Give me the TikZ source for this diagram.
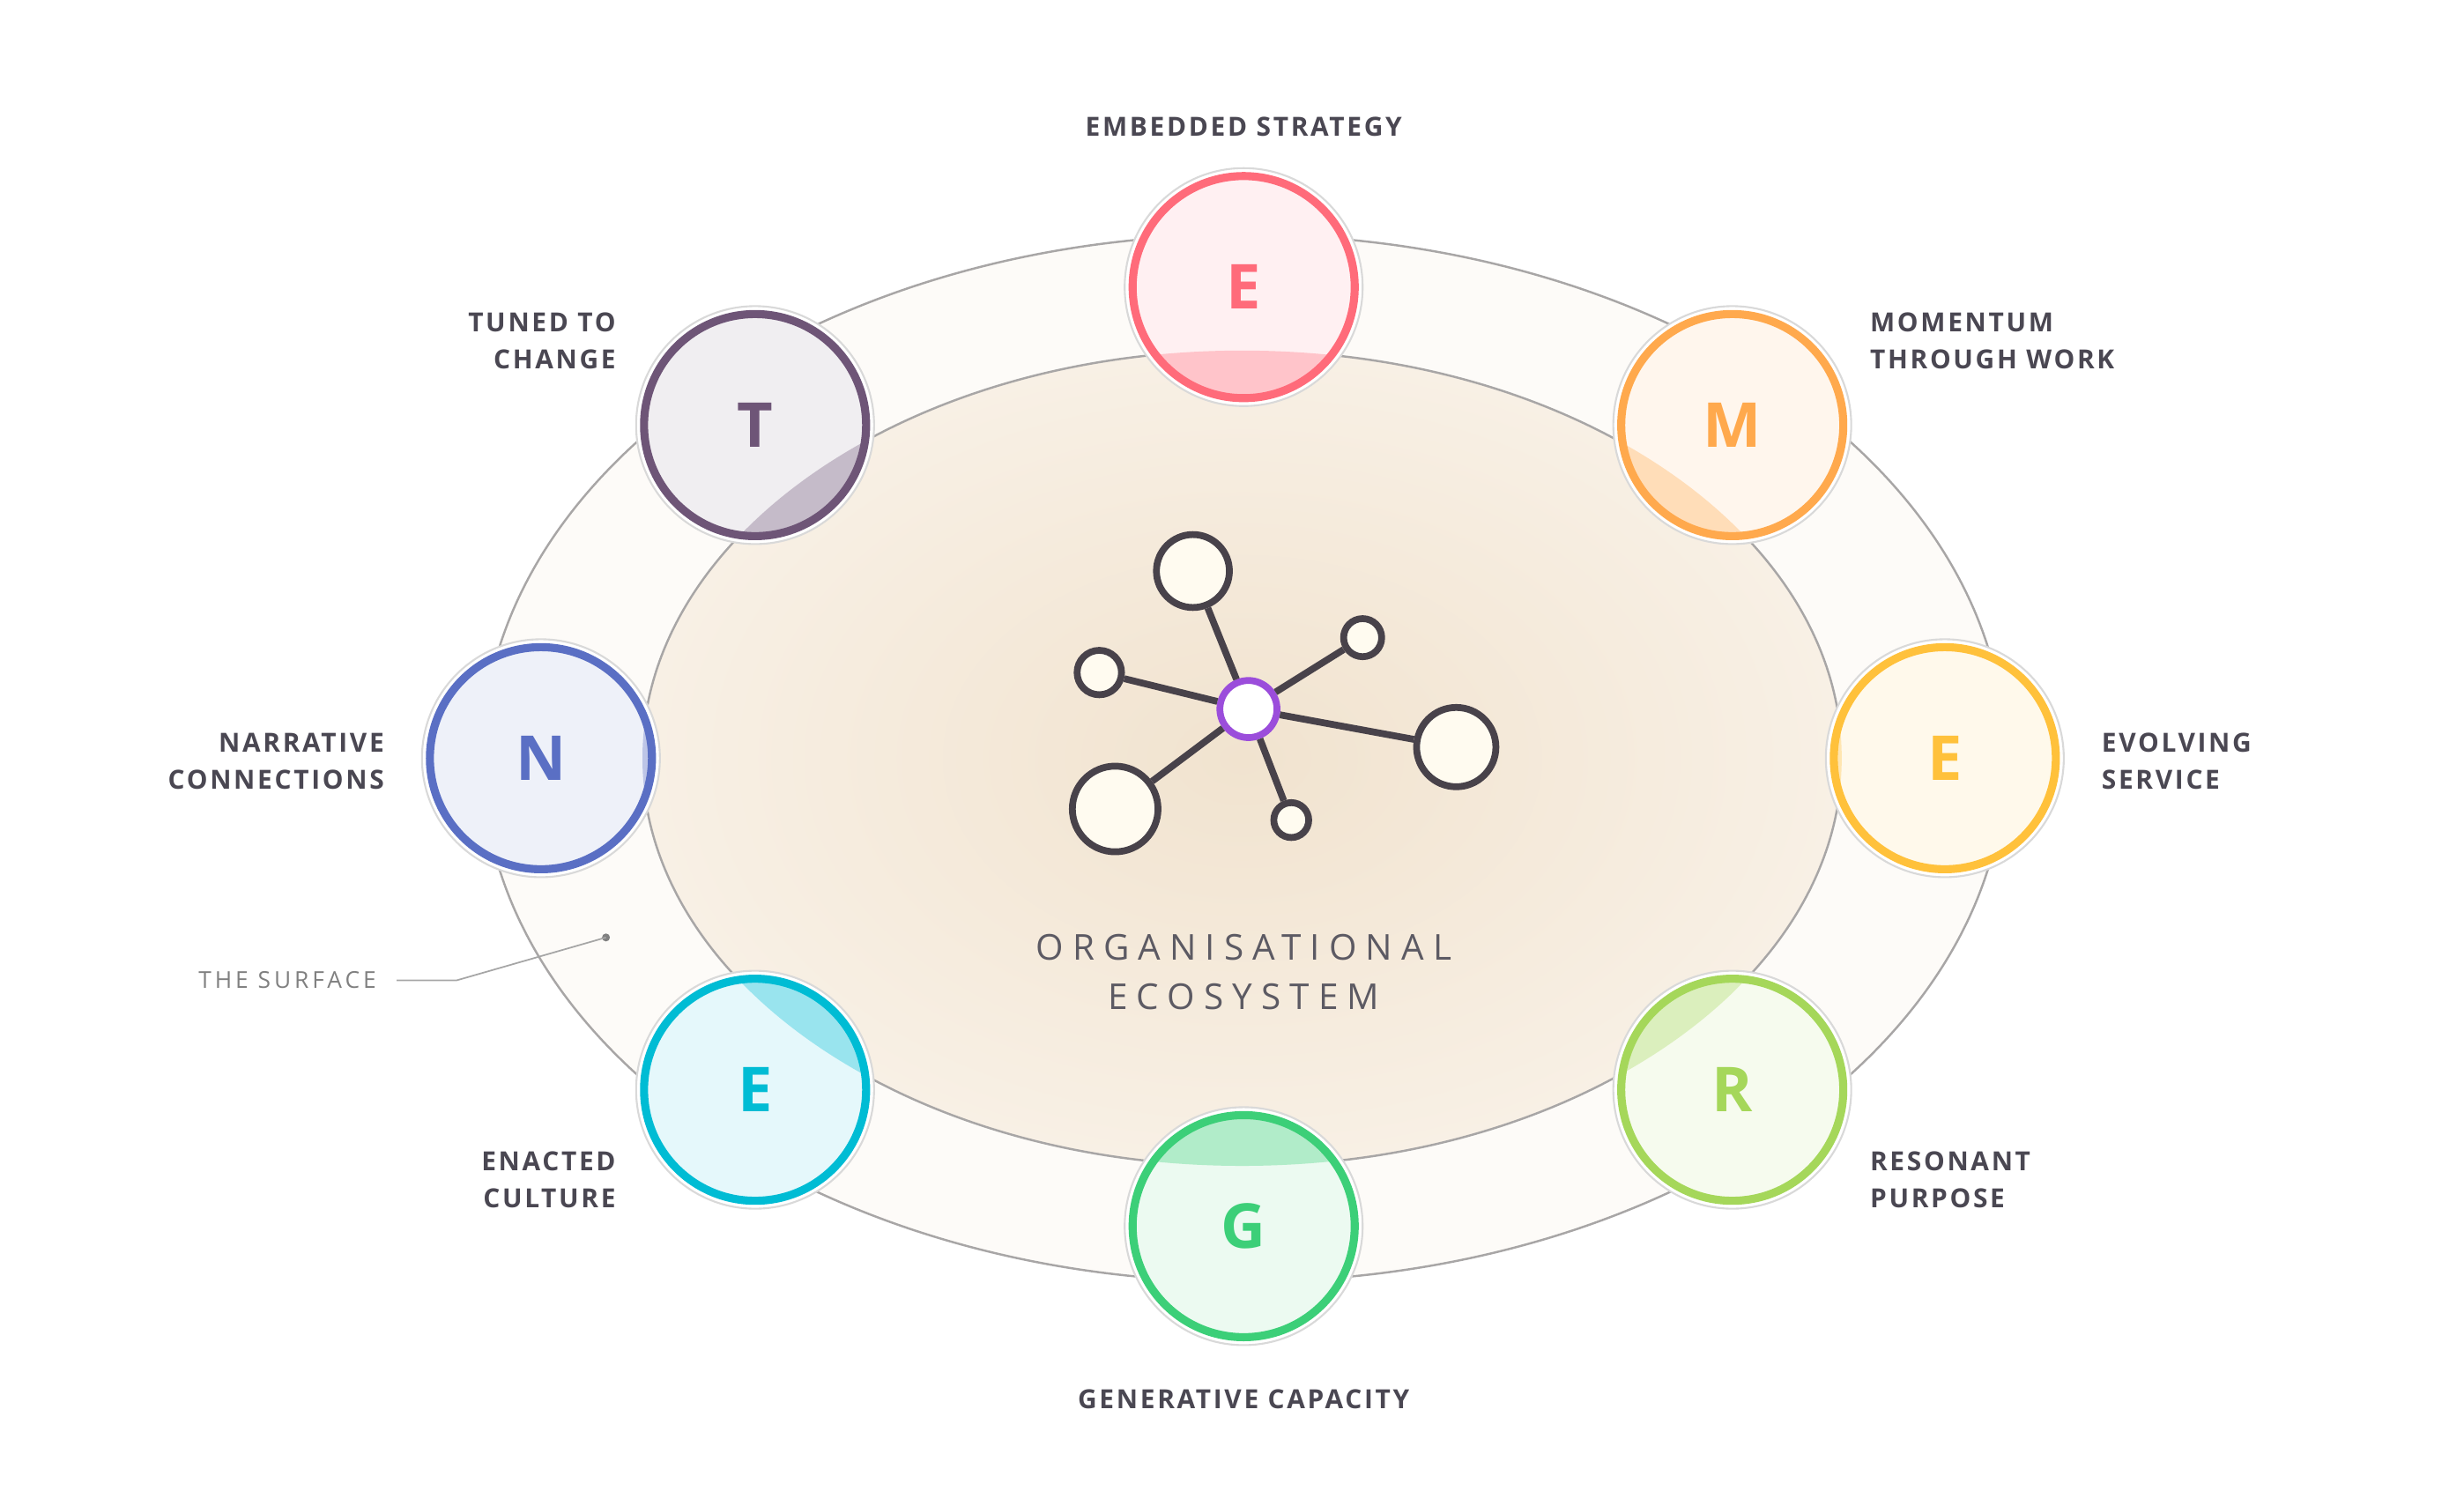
\documentclass[tikz,border=0pt]{standalone}
\usepackage{fontspec}
\setmainfont{Open Sans}
\usetikzlibrary{positioning,shadings}
\definecolor{labelgray}{HTML}{4A4752}
\definecolor{ringgray}{HTML}{A8A6A6}
\definecolor{coreIn}{HTML}{F1E3CF}
\definecolor{coreOut}{HTML}{F8F0E5}
\definecolor{ringfill}{HTML}{FDFBF8}
\definecolor{cE}{HTML}{FF6B7A}
\definecolor{cT}{HTML}{6E5577}
\definecolor{cM}{HTML}{FFA94D}
\definecolor{cN}{HTML}{5A6FC4}
\definecolor{cEr}{HTML}{FFC13B}
\definecolor{cEl}{HTML}{00BCD4}
\definecolor{cR}{HTML}{A5D75A}
\definecolor{cG}{HTML}{3CCF78}
\definecolor{netline}{HTML}{48424A}
\definecolor{netfill}{HTML}{FFFBF0}
\definecolor{hubviolet}{HTML}{9B4DDB}
\tikzset{
    label-text/.style = {text=labelgray, font=\fontsize{8.5}{12}\selectfont\addfontfeature{LetterSpace=9}\bfseries, align=left},
    letter/.style = {font=\fontsize{20}{20}\selectfont\bfseries},
    net-node/.style = {circle, draw=netline, line width=2.2pt, fill=netfill, inner sep=0pt},
}
\begin{document}
\begin{tikzpicture}[x=0.018cm,y=-0.018cm]
\useasboundingbox (0,0) rectangle (1553.3,948.9);
% ring and core
\draw[ringgray, fill=ringfill, line width=0.7pt] (784,478) ellipse [x radius=480, y radius=330];
\shade[inner color=coreIn, outer color=coreOut, draw=ringgray, line width=0.7pt] (783,478) ellipse [x radius=378, y radius=257];
% circles
\foreach \x/\y/\c/\l/\n in {784/181/cE/E/e1, 476/268/cT/T/t, 1092/268/cM/M/m, 341/478/cN/N/n, 1226/478/cEr/E/e2, 476/687/cEl/E/e3, 1092/687/cR/R/r, 784/773/cG/G/g}{
    \fill[white] (\x,\y) circle (75);
    \draw[gray!30, line width=0.6pt] (\x,\y) circle (75);
    \fill[\c!10!white] (\x,\y) circle (70);
    \begin{scope}
        \clip (783,478) ellipse [x radius=378, y radius=257];
        \fill[\c!40!white] (\x,\y) circle (70);
    \end{scope}
    \draw[\c, line width=2.6pt] (\x,\y) circle (70);
    \node[letter, text=\c] (\n) at (\x,\y) {\l};
}
% labels
\node[label-text, align=center] (l-e1) at (784,80) {EMBEDDED STRATEGY};
\node[label-text, align=right, anchor=east] (l-t) at (395,215) {TUNED TO\\CHANGE};
\node[label-text, anchor=west] (l-m) at (1172,215) {MOMENTUM\\THROUGH WORK};
\node[label-text, align=right, anchor=east] (l-n) at (249,480) {NARRATIVE\\CONNECTIONS};
\node[label-text, anchor=west] (l-e2) at (1318,480) {EVOLVING\\SERVICE};
\node[label-text, align=right, anchor=east] (l-e3) at (395,744) {ENACTED\\CULTURE};
\node[label-text, anchor=west] (l-r) at (1172,744) {RESONANT\\PURPOSE};
\node[label-text, align=center] (l-g) at (784,882) {GENERATIVE CAPACITY};
% the surface
\node[text=gray, font=\fontsize{7.5}{9}\selectfont\addfontfeature{LetterSpace=15}, anchor=east] (surf) at (244,618) {THE SURFACE};
\coordinate (surf-bend) at (288,618);
\fill[gray] (382,591) circle (2.5) coordinate (surf-dot);
\draw[gray!70, line width=0.5pt] (surf.east) ++(6,0) -- (surf-bend) -- (surf-dot);
% core text
\node[text=labelgray!90, font=\fontsize{11.5}{16}\selectfont\addfontfeature{LetterSpace=25}, align=center] (core) at (784,613) {ORGANISATIONAL\\ECOSYSTEM};
% network
\node[net-node, minimum size=46*0.018cm] (a) at (752,360) {};
\node[net-node, minimum size=24*0.018cm] (b) at (859,402) {};
\node[net-node, minimum size=28*0.018cm] (c) at (693,424) {};
\node[net-node, minimum size=50*0.018cm] (d) at (918,471) {};
\node[net-node, minimum size=54*0.018cm] (f) at (703,510) {};
\node[net-node, minimum size=22*0.018cm] (h) at (814,517) {};
\node[net-node, draw=hubviolet, fill=white, minimum size=36*0.018cm] (hub) at (787,447) {};
\foreach \t in {a,b,c,d,f,h}
    \draw[netline, line width=2.2pt] (hub) -- (\t);
\end{tikzpicture}
\end{document}
